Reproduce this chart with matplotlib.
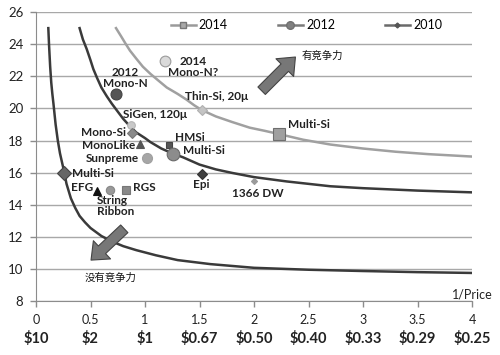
import matplotlib
matplotlib.use('Agg')
import matplotlib.pyplot as plt
from matplotlib.lines import Line2D

plt.rcParams['font.family'] = ['Lato', 'DejaVu Sans']

# efficiency curves (x = 1/price)
x_2010 = [0.113, 0.12, 0.13, 0.14, 0.15, 0.16, 0.18, 0.2, 0.22, 0.25, 0.28, 0.32, 0.36,
          0.4, 0.45, 0.5, 0.6, 0.7, 0.8, 0.92, 1.1, 1.3, 1.6, 2.0, 2.5, 3.0, 3.5, 4.0]
y_2010 = [25.0, 23.9, 22.6, 21.6, 20.9, 20.3, 19.0, 18.0, 17.2, 16.3, 15.3, 14.4, 13.8,
          13.3, 12.9, 12.55, 12.05, 11.7, 11.42, 11.17, 10.85, 10.55, 10.3, 10.07, 9.95, 9.87, 9.8, 9.75]

x_2012 = [0.40, 0.43, 0.465, 0.5, 0.526, 0.56, 0.6, 0.65, 0.695, 0.75, 0.8, 0.86, 0.92, 1.0,
          1.05, 1.15, 1.25, 1.35, 1.5, 1.65, 1.8, 2.0, 2.3, 2.7, 3.0, 3.5, 4.0]
y_2012 = [25.0, 24.3, 23.7, 23.0, 22.45, 21.9, 21.3, 20.75, 20.3, 19.8, 19.35, 18.9, 18.5, 18.15,
          17.9, 17.5, 17.2, 16.95, 16.5, 16.2, 15.98, 15.72, 15.45, 15.15, 15.03, 14.88, 14.77]

x_2014 = [0.734, 0.78, 0.82, 0.862, 0.92, 0.98, 1.05, 1.12, 1.2, 1.3, 1.38, 1.45, 1.52, 1.65,
          1.8, 1.96, 2.1, 2.23, 2.45, 2.7, 3.0, 3.3, 3.6, 4.0]
y_2014 = [25.0, 24.5, 24.05, 23.6, 23.1, 22.6, 22.15, 21.75, 21.3, 20.9, 20.55, 20.2, 19.9, 19.5,
          19.15, 18.8, 18.6, 18.4, 18.05, 17.75, 17.5, 17.3, 17.15, 17.0]

# technologies
pt_names = ['Multi-Si', 'Thin-Si, 20\u03bc', '2014\nMono-N?', '2012\nMono-N', 'SiGen, 120\u03bc',
            'Mono-Si', 'MonoLike', 'Sunpreme', 'HMSi', 'Multi-Si', 'Epi', '1366 DW',
            'Multi-Si', 'EFG', 'String\nRibbon', 'RGS']
pt_x = [2.23, 1.52, 1.183, 0.734, 0.869, 0.878, 0.954, 1.015, 1.223, 1.254, 1.52, 2.0,
        0.26, 0.56, 0.679, 0.826]
pt_y = [18.4, 19.9, 22.94, 20.9, 18.97, 18.48, 17.8, 16.93, 17.73, 17.17, 15.93, 15.47,
        15.97, 14.85, 14.89, 14.89]

xticks = [0, 0.5, 1, 1.5, 2, 2.5, 3, 3.5, 4]
xtick_labels = ['0', '0.5', '1', '1.5', '2', '2.5', '3', '3.5', '4']
price_labels = ['$10', '$2', '$1', '$0.67', '$0.50', '$0.40', '$0.33', '$0.29', '$0.25']

# marker, face, edge, size, label offset (px), ha
styles = [
    ('s', '#a0a0a0', '#6e6e6e', 8.9, (9, 10), 'left'),
    ('D', '#c4c4c4', '#b0b0b0', 5.1, (-17, 13), 'left'),
    ('o', '#dadada', '#9a9a9a', 7.7, (28, -6), 'center'),
    ('o', '#555555', '#444444', 7.9, (9.5, 16), 'center'),
    ('o', '#c8c8c8', '#b5b5b5', 5.5, (-8, 10), 'left'),
    ('D', '#8a8a8a', '#777777', 4.8, (-6, 0.5), 'right'),
    ('^', '#555555', '#555555', 5.5, (-5, -1.5), 'right'),
    ('o', '#a6a6a6', '#a0a0a0', 7.2, (-7.5, -1), 'right'),
    ('s', '#555555', '#444444', 4.3, (6, 7), 'left'),
    ('o', '#8c8c8c', '#6a6a6a', 9.1, (10.5, 3), 'left'),
    ('D', '#404040', '#333333', 4.6, (0, -11), 'center'),
    ('D', '#9a9a9a', '#9a9a9a', 3.1, (-22, -12), 'left'),
    ('D', '#666666', '#444444', 6.8, (8, 0), 'left'),
    ('^', '#111111', '#111111', 5.5, (-3.5, 3.5), 'right'),
    ('o', '#999999', '#888888', 6.0, (-13, -15.5), 'left'),
    ('s', '#8a8a8a', '#777777', 5.5, (6.5, 2.5), 'left'),
]

fig = plt.figure(figsize=(5, 3.55), dpi=100)
ax = fig.add_axes([0.072, 0.152, 0.872, 0.814])

ax.plot(x_2010, y_2010, '-', color='#3a3a3a', lw=1.8, zorder=3)
ax.plot(x_2012, y_2012, '-', color='#3a3a3a', lw=1.8, zorder=3)
ax.plot(x_2014, y_2014, '-', color='#a0a0a0', lw=1.8, zorder=3)

for name, x, y, st in zip(pt_names, pt_x, pt_y, styles):
    m, fc, ec, ms, off, ha = st
    ax.plot(x, y, m, mfc=fc, mec=ec, ms=ms, mew=0.8, zorder=4)
    ax.annotate(name, (x, y), xytext=off, textcoords='offset pixels',
                ha=ha, va='center', fontsize=8.5, fontweight='bold',
                color='#222222', linespacing=0.95, zorder=5)

# arrows
arr = dict(arrowstyle='simple,head_length=0.6,head_width=1.0,tail_width=0.42',
           fc='#777777', ec='#444444', lw=0.8, shrinkA=0, shrinkB=0, mutation_scale=18)
ax.annotate('', xy=(2.38, 23.2), xytext=(2.07, 21.1), arrowprops=arr, zorder=6)
ax.annotate('', xy=(0.505, 10.55), xytext=(0.81, 12.5), arrowprops=arr, zorder=6)
ax.text(2.44, 23.3, '有竞争力', family=['Noto Sans CJK SC'], fontsize=7.5,
        ha='left', va='center', color='#111111')
ax.text(0.45, 9.45, '没有竞争力', family=['Noto Sans CJK SC'], fontsize=7.5,
        ha='left', va='center', color='#111111')

ax.set_xlim(0, 4)
ax.set_ylim(8, 26)
ax.set_yticks(range(8, 27, 2))
ax.yaxis.grid(True, color='#a8a8a8', lw=1.0)
ax.set_axisbelow(True)
for s in ['top', 'right']:
    ax.spines[s].set_visible(False)
for s in ['left', 'bottom']:
    ax.spines[s].set_color('#8c8c8c')
ax.tick_params(axis='y', length=4, width=1, color='#8c8c8c', pad=5, labelsize=9.5,
               labelcolor='#222222')
ax.set_xticks(xticks)
ax.set_xticklabels(xtick_labels)
ax.tick_params(axis='x', length=4, width=1, color='#8c8c8c', pad=5, labelsize=9,
               labelcolor='#222222')
for xt, lab in zip(xticks, price_labels):
    ax.text(xt, -0.128, lab, transform=ax.get_xaxis_transform(), ha='center',
            va='center', fontsize=10.5, fontweight='bold', color='#222222')
ax.text(1.048, 0.024, '1/Price', transform=ax.transAxes, ha='right', va='center',
        fontsize=9, color='#222222')

handles = [
    Line2D([], [], color='#9a9a9a', lw=1.8, marker='s', mfc='#a8a8a8', mec='#777777', ms=5),
    Line2D([], [], color='#7a7a7a', lw=1.8, marker='o', mfc='#808080', mec='#707070', ms=5.5),
    Line2D([], [], color='#6a6a6a', lw=1.8, marker='D', mfc='#555555', mec='#555555', ms=2.5),
]
ax.legend(handles, ['2014', '2012', '2010'], ncol=3, frameon=False, loc='center',
          bbox_to_anchor=(0.62, 0.955), fontsize=9, handlelength=2.0,
          handletextpad=0.25, columnspacing=4.0)

plt.savefig('out.png', dpi=100)
